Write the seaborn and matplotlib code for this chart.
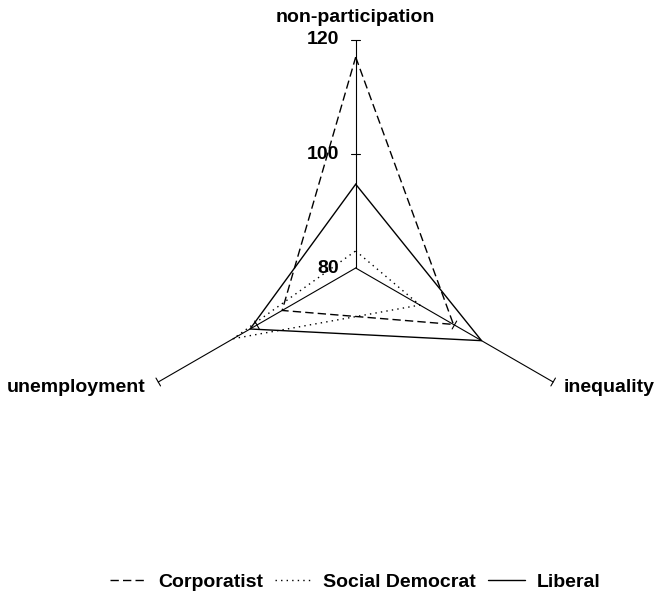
import matplotlib
matplotlib.use('Agg')
import matplotlib.pyplot as plt
import seaborn as sns
import numpy as np
import pandas as pd

# radar chart data
axes_names = ['non-participation', 'inequality', 'unemployment']
angles_deg = [90, -30, 210]
series_names = ['Corporatist', 'Social Democrat', 'Liberal']
corporatist = [117, 99.8, 94.9]
social_democrat = [83, 93, 104.8]
liberal = [94.7, 105.5, 101.4]
r_min, r_max = 80, 120
tick_values = [100, 120]
tick_labels = [80, 100, 120]

sns.set_style('white')
plt.rcParams['font.family'] = ['Liberation Sans', 'DejaVu Sans']
plt.rcParams['font.weight'] = 'bold'
plt.rcParams['text.color'] = 'black'

fig = plt.figure(figsize=(6.56, 5.95), dpi=100)
ax = fig.add_axes([0, 0, 1, 1])
ax.set_axis_off()

# pixel layout: center of radar at (355.7, 268), 5.7 px per unit
s = 5.7
cx, cy = 355.7, 268
ax.set_xlim(-cx / s, (656 - cx) / s)
ax.set_ylim(-(595 - cy) / s, cy / s)

th = np.deg2rad(angles_deg)
R = r_max - r_min

# spokes + ticks
for t in th:
    ax.plot([0, R * np.cos(t)], [0, R * np.sin(t)], color='black', lw=0.8)
    for v in tick_values:
        r = v - r_min
        px, py = -np.sin(t), np.cos(t)
        h = 0.8
        ax.plot([r * np.cos(t) - h * px, r * np.cos(t) + h * px],
                [r * np.sin(t) - h * py, r * np.sin(t) + h * py], color='black', lw=0.8)

for v in tick_labels:
    ax.text(-2.95, v - r_min, str(v), ha='right', va='center', fontsize=14, fontweight='bold')

# axis names
ax.text(0, 43.2, axes_names[0], ha='center', va='baseline', fontsize=14, fontweight='bold')
ex, ey = R * np.cos(th[1]), R * np.sin(th[1])
ax.text(ex + 1.75, ey - 1.05, axes_names[1], ha='left', va='center', fontsize=14, fontweight='bold')
ex, ey = R * np.cos(th[2]), R * np.sin(th[2])
ax.text(ex - 2.3, ey - 1.05, axes_names[2], ha='right', va='center', fontsize=14, fontweight='bold')

styles = [(0, (6, 3)), (0, (1, 3)), '-']
for name, vals, ls in zip(series_names, [corporatist, social_democrat, liberal], styles):
    r = np.array(vals + vals[:1]) - r_min
    tt = np.concatenate([th, th[:1]])
    df = pd.DataFrame({'x': r * np.cos(tt), 'y': r * np.sin(tt)})
    sns.lineplot(data=df, x='x', y='y', sort=False, estimator=None, color='black',
                 lw=1.0, linestyle=ls, label=name, ax=ax, legend=False)

handles = [plt.Line2D([], [], color='black', lw=1.0, linestyle=ls) for ls in styles]
fig.legend(handles, series_names, loc='center', bbox_to_anchor=(0.541, 13 / 595), ncol=3,
           frameon=False, handlelength=1.9, handletextpad=0.6, columnspacing=0.6,
           prop={'size': 14, 'weight': 'bold'})

fig.savefig('out.png', dpi=100)
